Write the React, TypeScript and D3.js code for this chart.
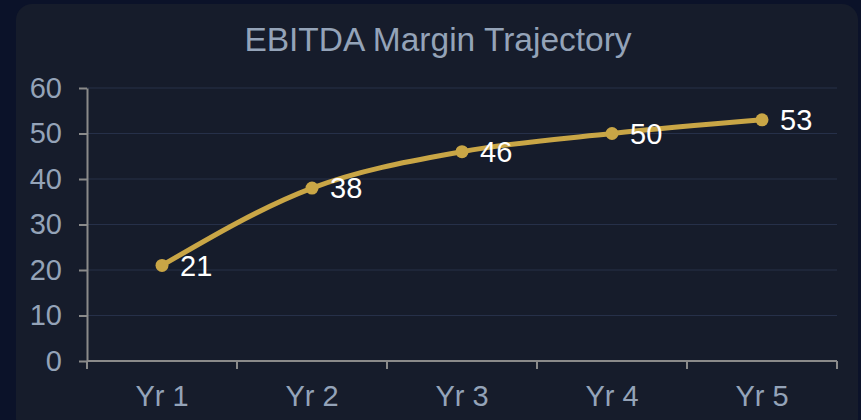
import { useEffect, useRef } from "react"
import * as d3 from "d3"

const years = ["Yr 1", "Yr 2", "Yr 3", "Yr 4", "Yr 5"]
const margins = [21, 38, 46, 50, 53]
const yTicks = [0, 10, 20, 30, 40, 50, 60]

const W = 861
const H = 420
const left = 87
const right = 837
const top = 88
const bottom = 361
const font = "'Liberation Sans', Arial, sans-serif"

export default function App() {
  const ref = useRef(null)

  useEffect(() => {
    const svg = d3.select(ref.current)
    svg.selectAll("*").remove()

    const x = d3.scaleBand().domain(years).range([left, right]).padding(0)
    const y = d3.scaleLinear().domain([0, 60]).range([bottom, top])

    // page + card
    svg.append("rect").attr("width", W).attr("height", H).attr("fill", "#0b1229")
    svg.append("rect")
      .attr("x", 16).attr("y", 4)
      .attr("width", 842).attr("height", 430)
      .attr("rx", 16)
      .attr("fill", "#161c2b")

    svg.append("text")
      .attr("x", 438).attr("y", 51)
      .attr("text-anchor", "middle")
      .attr("font-family", font)
      .attr("font-size", 33.5)
      .attr("fill", "#94a3b8")
      .text("EBITDA Margin Trajectory")

    // grid
    svg.append("g")
      .selectAll("line")
      .data(yTicks.filter(d => d > 0))
      .join("line")
      .attr("x1", left).attr("x2", right)
      .attr("y1", d => y(d)).attr("y2", d => y(d))
      .attr("stroke", "#263049")
      .attr("stroke-width", 1)

    const styleAxis = g => {
      g.select(".domain").attr("stroke", "#8a8a8a").attr("stroke-width", 2)
      g.selectAll(".tick line").attr("stroke", "#8a8a8a").attr("stroke-width", 2)
      g.selectAll(".tick text")
        .attr("fill", "#94a3b8")
        .attr("font-family", font)
        .attr("font-size", 29)
    }

    svg.append("g")
      .attr("transform", `translate(${left},0)`)
      .call(d3.axisLeft(y).tickValues(yTicks).tickSize(8).tickPadding(17).tickSizeOuter(0))
      .call(styleAxis)

    // x axis with ticks at band edges
    const xg = svg.append("g").attr("transform", `translate(0,${bottom})`)
    xg.append("line")
      .attr("x1", left).attr("x2", right)
      .attr("stroke", "#8a8a8a").attr("stroke-width", 2)
    const edges = years.map(d => x(d)).concat([x(years[years.length - 1]) + x.bandwidth()])
    xg.selectAll("line.tk")
      .data(edges)
      .join("line")
      .attr("class", "tk")
      .attr("x1", d => d).attr("x2", d => d)
      .attr("y1", 0).attr("y2", 8)
      .attr("stroke", "#8a8a8a").attr("stroke-width", 2)
    xg.selectAll("text")
      .data(years)
      .join("text")
      .attr("x", d => x(d) + x.bandwidth() / 2)
      .attr("y", 45)
      .attr("text-anchor", "middle")
      .attr("fill", "#94a3b8")
      .attr("font-family", font)
      .attr("font-size", 29)
      .text(d => d)

    const cx = (d, i) => x(years[i]) + x.bandwidth() / 2
    const line = d3.line()
      .x((d, i) => cx(d, i))
      .y(d => y(d))
      .curve(d3.curveMonotoneX)

    svg.append("path")
      .datum(margins)
      .attr("d", line)
      .attr("fill", "none")
      .attr("stroke", "#c9a646")
      .attr("stroke-width", 5)

    svg.append("g")
      .selectAll("circle")
      .data(margins)
      .join("circle")
      .attr("cx", cx)
      .attr("cy", d => y(d))
      .attr("r", 6.5)
      .attr("fill", "#c9a646")

    svg.append("g")
      .selectAll("text")
      .data(margins)
      .join("text")
      .attr("x", (d, i) => cx(d, i) + 18)
      .attr("y", d => y(d))
      .attr("dy", "0.35em")
      .attr("fill", "#ffffff")
      .attr("font-family", font)
      .attr("font-size", 29)
      .text(d => d)
  }, [])

  return (
    <svg ref={ref} width={W} height={H}
      style={{ position: "absolute", left: 0, top: 0, display: "block" }} />
  )
}
